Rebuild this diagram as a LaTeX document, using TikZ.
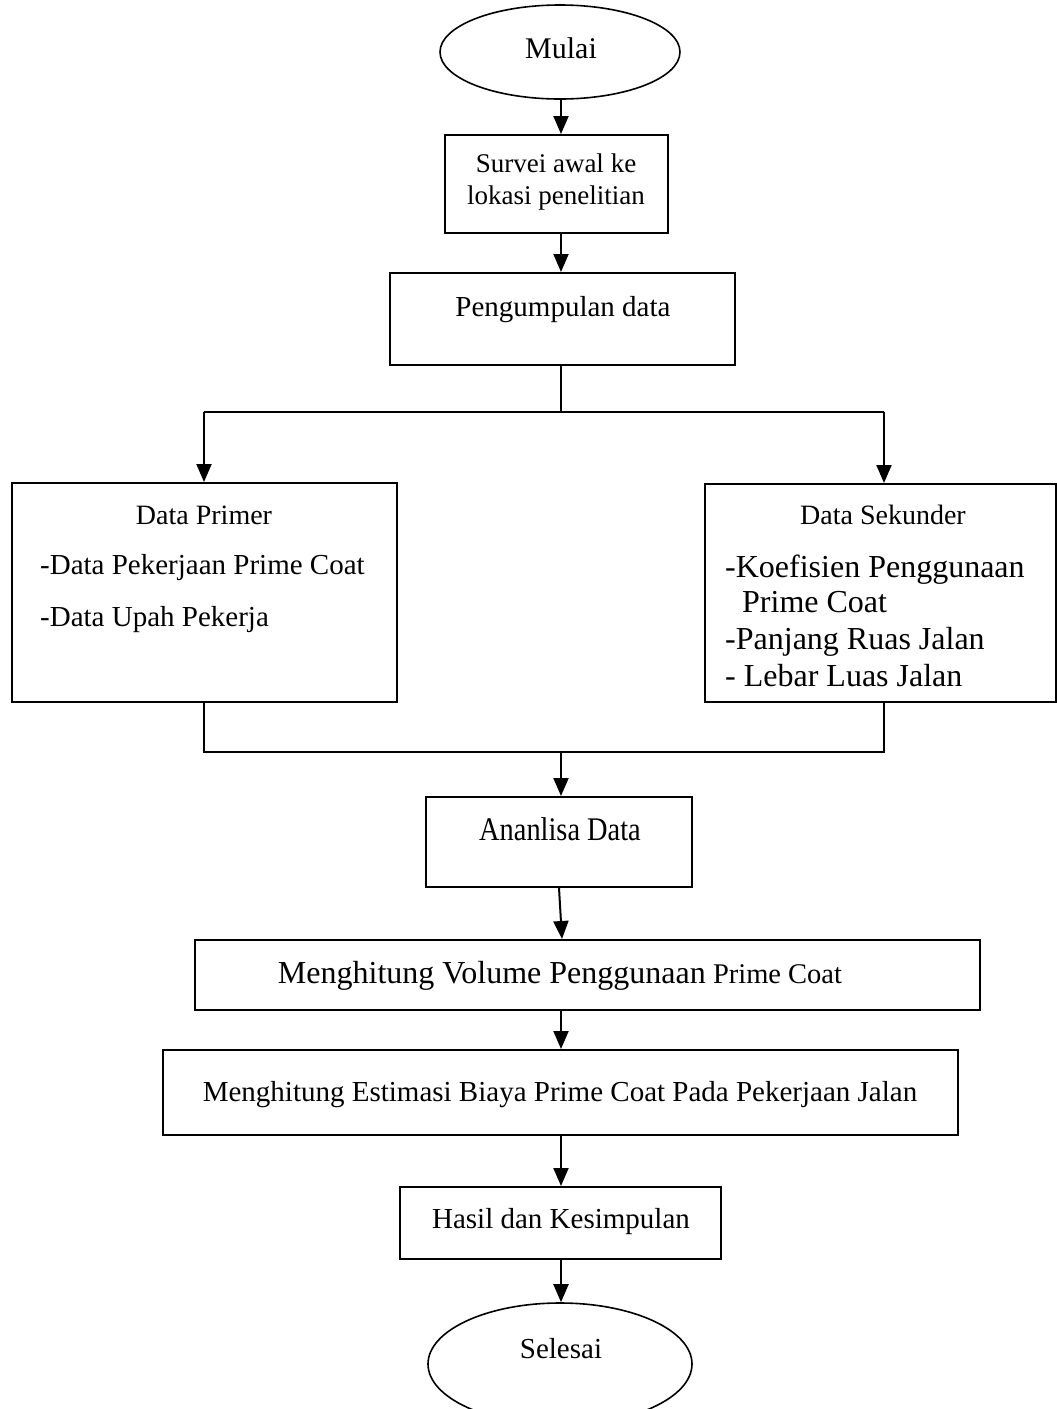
\documentclass[tikz,border=0pt]{standalone}
\usepackage{fontspec}
\setmainfont{Liberation Serif}
\usepackage{graphicx}
\usetikzlibrary{arrows.meta,shapes.geometric}
\tikzset{
  box/.style={draw, line width=2pt, inner sep=0pt, rectangle},
  oval/.style={draw, line width=1.6pt, ellipse, inner sep=0pt},
  arr/.style={line width=2pt, -{Triangle[length=18pt,width=15pt]}},
  conn/.style={line width=2pt},
  txt/.style={inner sep=0pt, anchor=base, font=\fontsize{29}{32}\selectfont},
  ltxt/.style={inner sep=0pt, anchor=base west, font=\fontsize{29}{32}\selectfont},
  btxt/.style={inner sep=0pt, anchor=base west, font=\fontsize{32}{36}\selectfont},
}
\begin{document}
\begin{tikzpicture}[x=1pt,y=-1pt]
\useasboundingbox[fill=white] (0,0) rectangle (1057,1409);
% shapes
\node[oval, minimum width=240pt, minimum height=94pt] (mulai) at (560,52) {};
\node[box, minimum width=223pt, minimum height=98pt] (survei) at (556.5,184) {};
\node[box, minimum width=345pt, minimum height=92pt] (peng) at (562.5,319) {};
\node[box, minimum width=385pt, minimum height=219pt] (primer) at (204.5,592.5) {};
\node[box, minimum width=351pt, minimum height=218pt] (sekunder) at (880,593) {};
\node[box, minimum width=266pt, minimum height=90pt] (analisa) at (559,842) {};
\node[box, minimum width=785pt, minimum height=70pt] (volume) at (587.5,975) {};
\node[box, minimum width=795pt, minimum height=85pt] (estimasi) at (560.5,1092.5) {};
\node[box, minimum width=321pt, minimum height=72pt] (hasil) at (560.5,1223) {};
\node[oval, minimum width=264pt, minimum height=122pt] (selesai) at (560,1364) {};
% texts
\node[txt, font=\fontsize{30}{33}\selectfont] (tmulai) at (561,58) {Mulai};
\node[txt, font=\fontsize{27}{30}\selectfont] (tsurvei1) at (556,172) {Survei awal ke};
\node[txt, font=\fontsize{27}{30}\selectfont] (tsurvei2) at (556,204) {lokasi penelitian};
\node[txt] (tpeng) at (563,316) {Pengumpulan data};
\node[txt, font=\fontsize{28}{32}\selectfont] (tprimer) at (204,524) {Data Primer};
\node[ltxt] (tp1) at (40,574) {-Data Pekerjaan Prime Coat};
\node[ltxt] (tp2) at (40,626) {-Data Upah Pekerja};
\node[txt, font=\fontsize{28}{32}\selectfont] (tsek) at (883,524) {Data Sekunder};
\node[btxt] (ts1) at (725,577) {-Koefisien Penggunaan};
\node[btxt] (ts2) at (742,612) {Prime Coat};
\node[btxt] (ts3) at (725,649) {-Panjang Ruas Jalan};
\node[btxt] (ts4) at (725,686) {- Lebar Luas Jalan};
\node[txt] (tanalisa) at (560,840) {\scalebox{0.86}[1]{\fontsize{33}{36}\selectfont Ananlisa Data}};
\node[txt] (tvolume) at (560,983) {{\fontsize{32}{36}\selectfont Menghitung Volume Penggunaan} {\fontsize{28.5}{32}\selectfont Prime Coat}};
\node[txt] (testimasi) at (560,1101) {Menghitung Estimasi Biaya Prime Coat Pada Pekerjaan Jalan};
\node[txt] (thasil) at (561,1228) {Hasil dan Kesimpulan};
\node[txt] (tselesai) at (561,1358) {Selesai};
% split / merge points
\coordinate (sp) at (561,412);
\coordinate (spl) at (204,412);
\coordinate (spr) at (884,412);
\coordinate (mc) at (561,752);
\coordinate (ml) at (204,752);
\coordinate (mr) at (884,752);
% connectors
\draw[arr] (mulai.south -| 561,0) -- (survei.north -| 561,0);
\draw[arr] (survei.south -| 561,0) -- (peng.north -| 561,0);
\draw[conn] (peng.south -| sp) -- (sp);
\draw[conn] (spl) -- (spr);
\draw[arr] (spl) -- (spl |- primer.north);
\draw[arr] (spr) -- (spr |- sekunder.north);
\draw[conn] (primer.south -| ml) -- (ml) -- (mr) -- (sekunder.south -| mr);
\draw[arr] (mc) -- (mc |- analisa.north);
\draw[arr] (analisa.south -| 559,0) -- (volume.north -| 562,0);
\draw[arr] (volume.south -| 561,0) -- (estimasi.north -| 561,0);
\draw[arr] (estimasi.south -| 561,0) -- (hasil.north -| 561,0);
\draw[arr] (hasil.south -| 561,0) -- (selesai.north -| 561,0);
\end{tikzpicture}
\end{document}
